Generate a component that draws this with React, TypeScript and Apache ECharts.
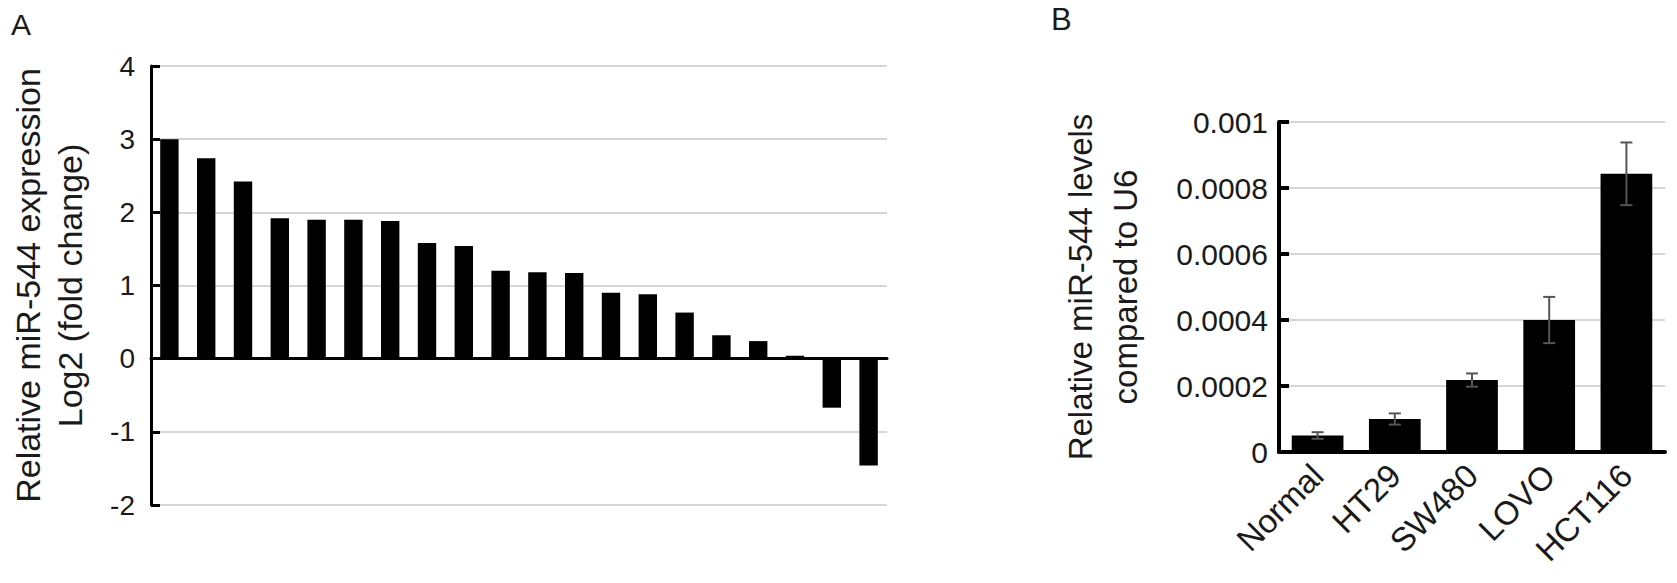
import React, { useEffect, useRef } from "react";
import * as echarts from "echarts";

// Panel A: relative miR-544 expression, log2 fold change (20 samples)
const sampleIds = [
  "1", "2", "3", "4", "5", "6", "7", "8", "9", "10",
  "11", "12", "13", "14", "15", "16", "17", "18", "19", "20",
];
const log2FoldChange = [
  3.0, 2.74, 2.42, 1.92, 1.9, 1.9, 1.88, 1.58, 1.54, 1.2,
  1.18, 1.17, 0.9, 0.88, 0.63, 0.32, 0.24, 0.04, -0.67, -1.46,
];
const axisATicks = { min: -2, max: 4, interval: 1 };

// Panel B: relative miR-544 levels compared to U6
const cellLines = ["Normal", "HT29", "SW480", "LOVO", "HCT116"];
const levelMeans = [0.00005, 0.0001, 0.000218, 0.0004, 0.000843];
const levelErrors = [0.00001, 0.000017, 0.00002, 0.00007, 0.000095];
const axisBTicks = { min: 0, max: 0.001, interval: 0.0002 };

const FONT = "'Liberation Sans', Arial, sans-serif";
const TXT = "#1a1a1a";

export default function App() {
  const ref = useRef<HTMLDivElement>(null);

  useEffect(() => {
    if (!ref.current) return;
    const chart = echarts.init(ref.current, null, { renderer: "svg" });

    const errData = cellLines.map((_, i) => [
      i,
      levelMeans[i] - levelErrors[i],
      levelMeans[i] + levelErrors[i],
    ]);

    chart.setOption({
      animation: false,
      backgroundColor: "#ffffff",
      textStyle: { fontFamily: FONT },
      title: [
        {
          text: "A",
          left: 11,
          top: 9,
          padding: 0,
          textStyle: { fontSize: 30, fontWeight: "normal", color: TXT, fontFamily: FONT },
        },
        {
          text: "B",
          left: 1051,
          top: 4,
          padding: 0,
          textStyle: { fontSize: 31, fontWeight: "normal", color: TXT, fontFamily: FONT },
        },
      ],
      grid: [
        { left: 151, top: 66, width: 736, height: 439 },
        { left: 1279, top: 122, right: 12, bottom: 131 },
      ],
      xAxis: [
        {
          type: "category",
          gridIndex: 0,
          data: sampleIds,
          axisLine: { show: true, onZero: true, lineStyle: { color: "#000", width: 3 } },
          axisTick: { show: false },
          axisLabel: { show: false },
          splitLine: { show: false },
        },
        {
          type: "category",
          gridIndex: 1,
          data: cellLines,
          axisLine: { show: true, lineStyle: { color: "#000", width: 4 } },
          axisTick: { show: false },
          axisLabel: {
            rotate: 45,
            margin: 18,
            fontSize: 33,
            color: TXT,
            fontFamily: FONT,
            interval: 0,
          },
          splitLine: { show: false },
        },
      ],
      yAxis: [
        {
          type: "value",
          gridIndex: 0,
          min: axisATicks.min,
          max: axisATicks.max,
          interval: axisATicks.interval,
          name: "Relative miR-544 expression\nLog2 (fold change)",
          nameLocation: "middle",
          nameRotate: 90,
          nameGap: 60,
          nameTextStyle: { fontSize: 34, color: TXT, fontFamily: FONT, lineHeight: 42 },
          axisLine: { show: true, lineStyle: { color: "#000", width: 3 } },
          axisTick: { show: true, inside: true, length: 9, lineStyle: { color: "#000", width: 3 } },
          axisLabel: { margin: 16, fontSize: 28, color: TXT, fontFamily: FONT },
          splitLine: { show: true, lineStyle: { color: "#d6d6d6", width: 2 } },
        },
        {
          type: "value",
          gridIndex: 1,
          min: axisBTicks.min,
          max: axisBTicks.max,
          interval: axisBTicks.interval,
          name: "Relative miR-544 levels\ncompared to U6",
          nameLocation: "middle",
          nameRotate: 90,
          nameGap: 131,
          nameTextStyle: { fontSize: 33, color: TXT, fontFamily: FONT, lineHeight: 45 },
          axisLine: { show: true, lineStyle: { color: "#000", width: 4 } },
          axisTick: { show: true, inside: true, length: 10, lineStyle: { color: "#000", width: 4 } },
          axisLabel: {
            margin: 11,
            fontSize: 30,
            color: TXT,
            fontFamily: FONT,
            formatter: (v: number) => (v === 0 ? "0" : String(+v.toFixed(4))),
          },
          splitLine: { show: true, lineStyle: { color: "#d6d6d6", width: 2 } },
        },
      ],
      series: [
        {
          type: "bar",
          xAxisIndex: 0,
          yAxisIndex: 0,
          data: log2FoldChange,
          barWidth: "50%",
          itemStyle: { color: "#000" },
          z: 2,
        },
        {
          type: "bar",
          xAxisIndex: 1,
          yAxisIndex: 1,
          data: levelMeans,
          barWidth: "67%",
          itemStyle: { color: "#000" },
          z: 2,
        },
        {
          type: "custom",
          xAxisIndex: 1,
          yAxisIndex: 1,
          data: errData,
          encode: { x: 0, y: [1, 2] },
          z: 5,
          renderItem: (params: any, api: any) => {
            const xi = api.value(0);
            const lo = api.coord([xi, api.value(1)]);
            const hi = api.coord([xi, api.value(2)]);
            const cap = 6;
            const style = { stroke: "#555555", lineWidth: 2 };
            return {
              type: "group",
              children: [
                { type: "line", shape: { x1: hi[0], y1: hi[1], x2: lo[0], y2: lo[1] }, style },
                { type: "line", shape: { x1: hi[0] - cap, y1: hi[1], x2: hi[0] + cap, y2: hi[1] }, style },
                { type: "line", shape: { x1: lo[0] - cap, y1: lo[1], x2: lo[0] + cap, y2: lo[1] }, style },
              ],
            };
          },
        },
      ],
    });

    return () => chart.dispose();
  }, []);

  return (
    <div
      ref={ref}
      style={{ position: "absolute", left: 0, top: 0, width: 1677, height: 583, background: "#fff" }}
    />
  );
}
